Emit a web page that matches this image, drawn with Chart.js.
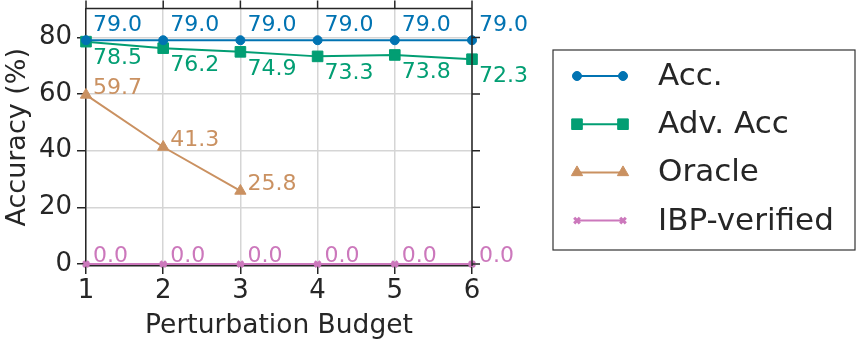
<!DOCTYPE html>
<html lang="en">
<head>
    <meta charset="UTF-8">
    <title>Accuracy vs Perturbation Budget</title>
    <script src="https://cdn.jsdelivr.net/npm/chart.js"></script>
    <style>
        html, body { margin: 0; padding: 0; background: #fff; }
        #wrap { width: 864px; height: 344px; }
    </style>
</head>
<body>
    <div id="wrap"><canvas id="chart" width="864" height="344"></canvas></div>
    <script>
        // data
        const budgets = [1, 2, 3, 4, 5, 6];
        const accValues = [79.0, 79.0, 79.0, 79.0, 79.0, 79.0];
        const advAccValues = [78.5, 76.2, 74.9, 73.3, 73.8, 72.3];
        const oracleValues = [59.7, 41.3, 25.8];
        const ibpValues = [0.0, 0.0, 0.0, 0.0, 0.0, 0.0];
        const yTickValues = [0, 20, 40, 60, 80];
        const seriesNames = ['Acc.', 'Adv. Acc', 'Oracle', 'IBP-verified'];

        const FONT = "'DejaVu Sans', sans-serif";
        const TEXT = '#262626';

        function toPoints(values) {
            return values.map((v, i) => ({ x: budgets[i], y: v }));
        }

        // where each series puts its value labels
        const labelStyle = [
            { dx: 7, dy: -4, base: 'bottom' },
            { dx: 7, dy: 6, base: 'top' },
            { dx: 7, dy: -7, base: 'middle' },
            { dx: 7, dy: -8, base: 'middle' }
        ];

        const valueLabels = {
            id: 'valueLabels',
            afterDatasetsDraw(chart) {
                const ctx = chart.ctx;
                ctx.save();
                ctx.font = '22px ' + FONT;
                ctx.textAlign = 'left';
                chart.data.datasets.forEach((ds, i) => {
                    const meta = chart.getDatasetMeta(i);
                    const st = labelStyle[i];
                    ctx.fillStyle = ds.borderColor;
                    ctx.textBaseline = st.base;
                    meta.data.forEach((pt, j) => {
                        ctx.fillText(ds.data[j].y.toFixed(1), pt.x + st.dx, pt.y + st.dy);
                    });
                });
                ctx.restore();
            }
        };

        // top/right spines with outward ticks, plus the boxed legend
        const frameAndLegend = {
            id: 'frameAndLegend',
            afterDraw(chart) {
                const ctx = chart.ctx;
                const a = chart.chartArea;
                const xs = chart.scales.x, ys = chart.scales.y;
                ctx.save();
                ctx.strokeStyle = TEXT;
                ctx.lineWidth = 1.5;
                ctx.beginPath();
                ctx.moveTo(a.left, a.top); ctx.lineTo(a.right, a.top);
                ctx.moveTo(a.right, a.top); ctx.lineTo(a.right, a.bottom);
                budgets.forEach(b => {
                    const px = xs.getPixelForValue(b);
                    ctx.moveTo(px, a.top); ctx.lineTo(px, a.top - 8);
                });
                yTickValues.forEach(v => {
                    const py = ys.getPixelForValue(v);
                    ctx.moveTo(a.right, py); ctx.lineTo(a.right + 8, py);
                });
                ctx.stroke();

                // legend
                const lx = 553, ly = 50, lw = 302, lh = 200;
                ctx.strokeStyle = '#333';
                ctx.lineWidth = 1.2;
                ctx.strokeRect(lx, ly, lw, lh);
                ctx.font = '31px ' + FONT;
                ctx.textBaseline = 'middle';
                chart.data.datasets.forEach((ds, i) => {
                    const y = 76 + i * 48.2;
                    ctx.strokeStyle = ds.borderColor;
                    ctx.fillStyle = ds.borderColor;
                    ctx.lineWidth = 2;
                    ctx.beginPath();
                    ctx.moveTo(577, y); ctx.lineTo(623, y);
                    ctx.stroke();
                    [577, 623].forEach(x => {
                        ctx.fillStyle = ds.borderColor;
                        ctx.strokeStyle = ds.borderColor;
                        ctx.lineWidth = ds.pointBorderWidth;
                        Chart.helpers.drawPoint(ctx, {
                            pointStyle: ds.pointStyle,
                            radius: ds.pointRadius,
                            borderWidth: ds.pointBorderWidth,
                            rotation: 0
                        }, x, y);
                    });
                    ctx.fillStyle = TEXT;
                    ctx.fillText(ds.label, 658, y + 1);
                });
                ctx.restore();
            }
        };

        function series(label, values, color, style, radius, bw) {
            return {
                label: label,
                data: toPoints(values),
                borderColor: color,
                backgroundColor: color,
                pointBackgroundColor: color,
                pointBorderColor: color,
                pointStyle: style,
                pointRadius: radius,
                pointBorderWidth: bw,
                borderWidth: 2,
                tension: 0,
                clip: false
            };
        }

        const chart = new Chart(document.getElementById('chart'), {
            type: 'line',
            data: {
                datasets: [
                    series(seriesNames[0], accValues, '#0173b2', 'circle', 4.5, 1),
                    series(seriesNames[1], advAccValues, '#029e73', 'rect', 7.5, 1),
                    series(seriesNames[2], oracleValues, '#ca9161', 'triangle', 6.5, 1),
                    series(seriesNames[3], ibpValues, '#cc78bc', 'crossRot', 4, 3)
                ]
            },
            options: {
                responsive: false,
                animation: false,
                layout: { padding: { left: 0, top: 3, right: 392, bottom: 0 } },
                plugins: { legend: { display: false }, tooltip: { enabled: false } },
                scales: {
                    x: {
                        type: 'linear',
                        min: 1,
                        max: 6,
                        afterFit(scale) {
                            scale.height = 78;
                            scale.paddingTop = 0;
                            scale.paddingBottom = 0;
                        },
                        ticks: { stepSize: 1, color: TEXT, font: { family: FONT, size: 26 }, padding: 2 },
                        grid: { color: '#d5d5d5', lineWidth: 1.5, tickColor: TEXT, tickLength: 8 },
                        border: { color: TEXT, width: 1.5 },
                        title: { display: true, text: 'Perturbation Budget', color: TEXT, font: { family: FONT, size: 26.5 }, padding: { top: 0, bottom: 2 } }
                    },
                    y: {
                        min: -0.7,
                        max: 90.2,
                        afterFit(scale) {
                            scale.width = 86;
                            scale.paddingTop = 0;
                            scale.paddingBottom = 0;
                        },
                        afterBuildTicks(scale) { scale.ticks = yTickValues.map(v => ({ value: v })); },
                        ticks: { color: TEXT, font: { family: FONT, size: 26 }, padding: 5 },
                        grid: { color: '#d5d5d5', lineWidth: 1.5, tickColor: TEXT, tickLength: 9 },
                        border: { color: TEXT, width: 1.5 },
                        title: { display: true, text: 'Accuracy (%)', color: TEXT, font: { family: FONT, size: 27 }, padding: { top: 2, bottom: 0 } }
                    }
                }
            },
            plugins: [valueLabels, frameAndLegend]
        });
    </script>
</body>
</html>
